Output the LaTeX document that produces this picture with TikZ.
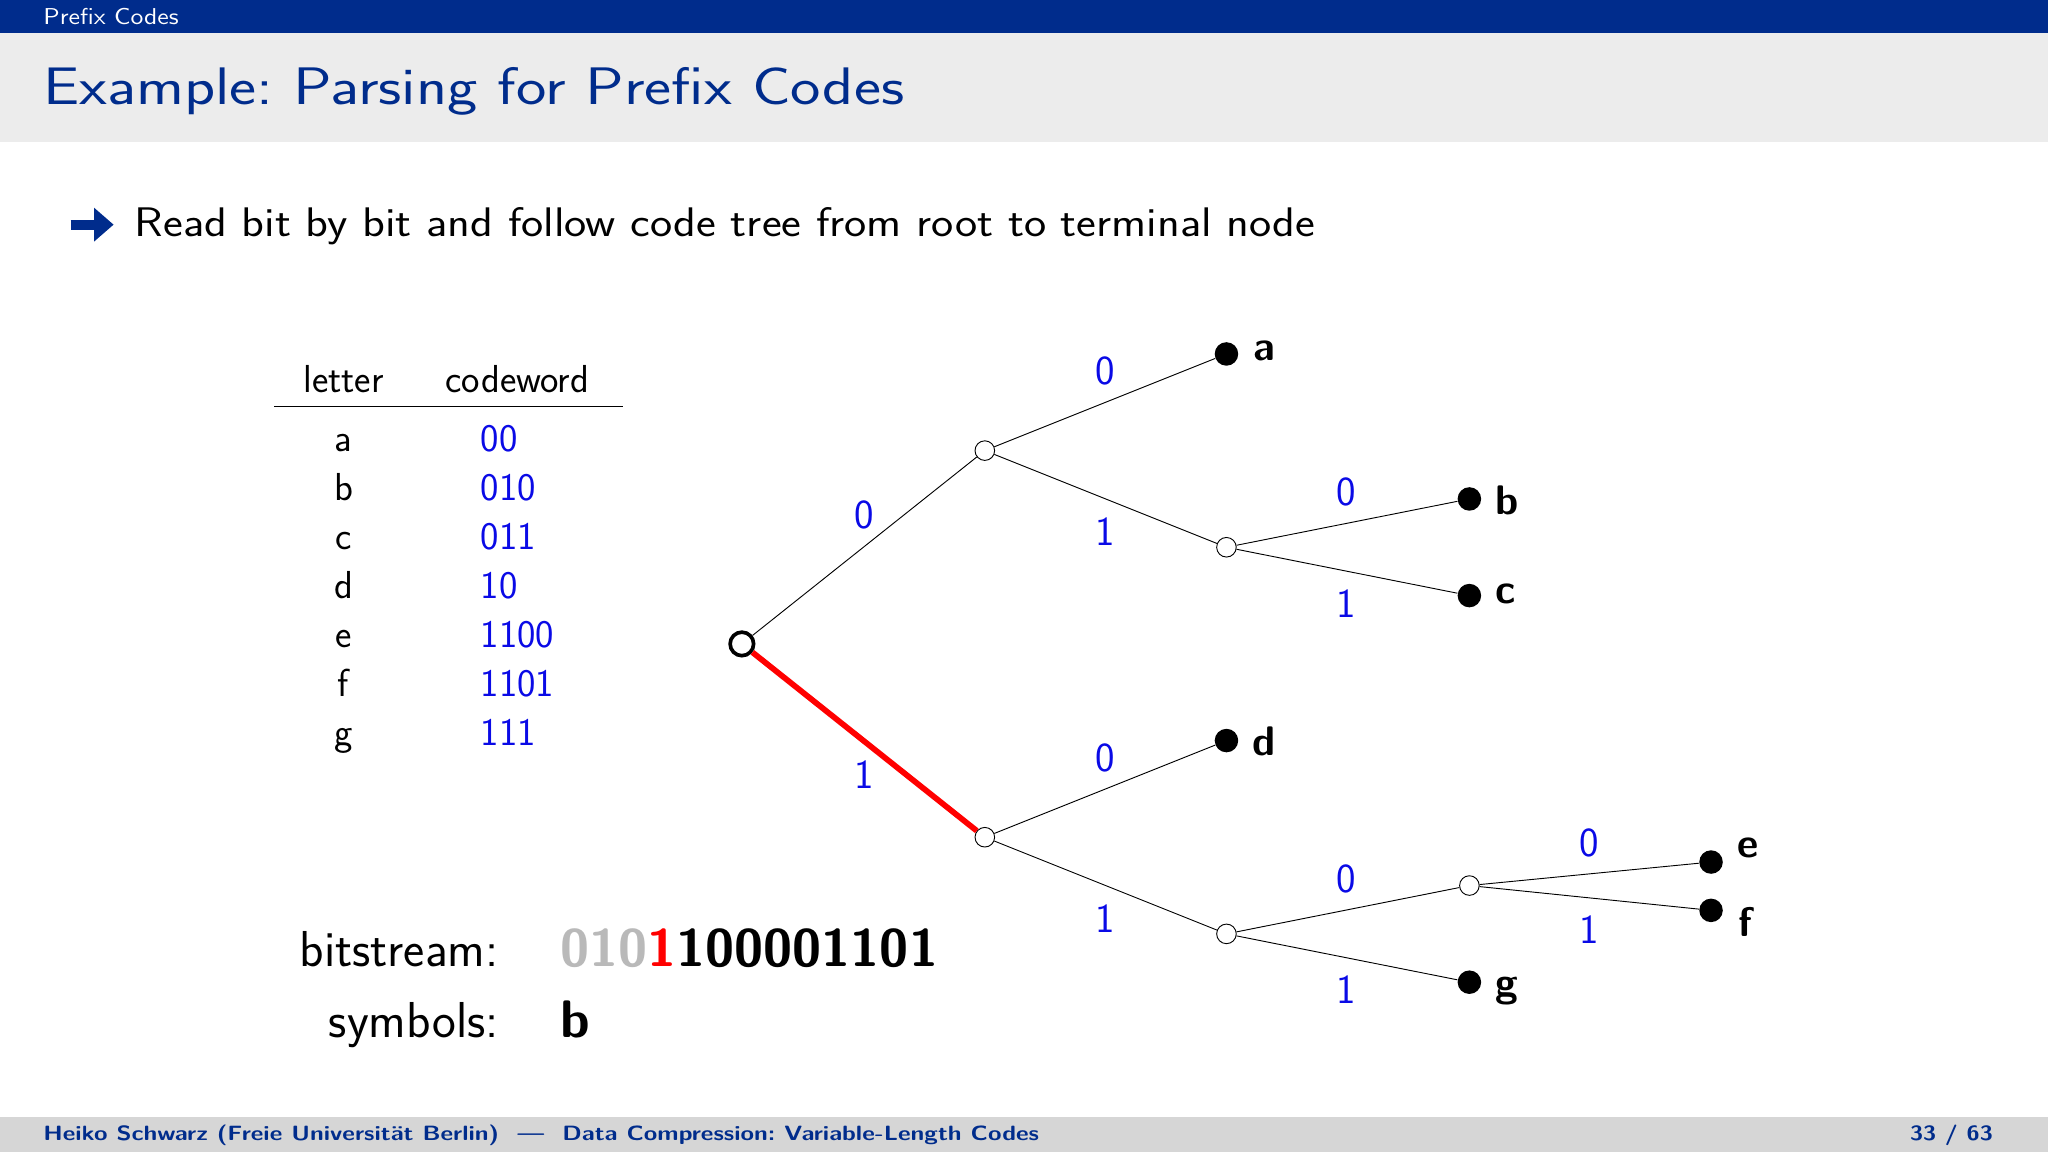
\documentclass[tikz,border=0pt]{standalone}
\usetikzlibrary{arrows.meta}
\begin{document}
\begin{tikzpicture}[x=0.2mm,y=-0.2mm,
  fs/.style 2 args={font=\fontsize{#1}{#2}\selectfont\sffamily},
  inner/.style={circle,draw,fill=white,inner sep=0pt,minimum size=3mm},
  leaf/.style={circle,fill=black,inner sep=0pt,minimum size=3.6mm},
  el/.style={fs={18}{20},text=lblue},
  ll/.style={font=\fontsize{18}{20}\selectfont\sffamily\bfseries},
  tx/.style={fs={17}{19}}]
\definecolor{bblue}{RGB}{0,44,140}
\definecolor{lblue}{RGB}{10,10,230}
\definecolor{hgray}{RGB}{236,236,236}
\useasboundingbox (0,0) rectangle (1568,882);
\fill[bblue] (0,0) rectangle (1568,25);
\fill[hgray] (0,25) rectangle (1568,109);
\fill[hgray!80!gray] (0,855) rectangle (1568,882);
\node[fs={10}{12},text=white,anchor=west] (hd) at (27,13) {\scalebox{1.12}[1]{Prefix Codes}};
\node[fs={23}{26},text=bblue,anchor=west] (title) at (27,70) {\scalebox{1.22}[1]{Example:\ Parsing for Prefix Codes}};
\node[font=\fontsize{9}{11}\selectfont\sffamily\bfseries,text=bblue,anchor=west] (ft) at (27,869) {\scalebox{1.19}[1]{Heiko Schwarz (Freie Universit\"at Berlin) \ --- \ Data Compression:\ Variable-Length Codes}};
\node[font=\fontsize{9}{11}\selectfont\sffamily\bfseries,text=bblue,anchor=east] (pg) at (1532,869) {\scalebox{1.15}[1]{33 / 63}};
\coordinate (a1) at (54,172); \coordinate (a2) at (87,172);
\draw[bblue,line width=1.5mm,-{Triangle[length=3mm,width=5mm]}] (a1) -- (a2);
\node[fs={18}{20},anchor=west] (bul) at (97,173) {\scalebox{1.14}[1]{Read bit by bit and follow code tree from root to terminal node}};
% table
\node[tx] (h1) at (263,290) {letter};
\node[tx] (h2) at (396,290) {codeword};
\coordinate (r1) at (210,311); \coordinate (r2) at (477,311);
\draw (r1) -- (r2);
\foreach \l/\c/\y in {a/00/338,b/010/375,c/011/413,d/10/450,e/1100/488,f/1101/525,g/111/563}{
  \node[tx,anchor=base] (L\l) at (263,\y+8) {\l};
  \node[tx,text=lblue,anchor=base west] (C\l) at (362,\y+8) {\c};
}
% bitstream
\node[fs={22}{24},anchor=base east] (bs) at (388,740) {bitstream:};
\node[font=\fontsize{23}{25}\selectfont\sffamily\bfseries,anchor=base west] (bits) at (423,740) {\textcolor{gray!55}{010}\textcolor{red}{1}100001101};
\node[fs={22}{24},anchor=base east] (sy) at (388,794) {symbols:};
\node[font=\fontsize{23}{25}\selectfont\sffamily\bfseries,anchor=base west] (sb) at (423,794) {b};
% tree
\node[inner,line width=1.6pt,minimum size=3.6mm] (r) at (568,493) {};
\node[inner] (n0) at (754,345) {};
\node[inner] (n1) at (754,641) {};
\node[leaf] (a) at (939,271) {};
\node[inner] (n01) at (939,419) {};
\node[leaf] (b) at (1125,382) {};
\node[leaf] (c) at (1125,456) {};
\node[leaf] (d) at (939,567) {};
\node[inner] (n11) at (939,715) {};
\node[inner] (n110) at (1125,678) {};
\node[leaf] (g) at (1125,752) {};
\node[leaf] (e) at (1310,660) {};
\node[leaf] (f) at (1310,697) {};
\draw (r) -- (n0);
\draw[red,line width=2.5pt] (r) -- (n1);
\draw (n0) -- (a); \draw (n0) -- (n01); \draw (n01) -- (b); \draw (n01) -- (c);
\draw (n1) -- (d); \draw (n1) -- (n11); \draw (n11) -- (n110); \draw (n11) -- (g);
\draw (n110) -- (e); \draw (n110) -- (f);
\foreach \t/\x/\y [count=\i] in {0/662/394,1/662/593,0/846/284,1/846/407,0/1031/377,1/1031/462,0/846/580,1/846/703,0/1031/673,1/1031/758,0/1217/645,1/1217/712}
  \node[el] (e\i) at (\x,\y) {\t};
\foreach \t/\x/\y in {a/968/269,b/1154/383,c/1153/455,d/968/568,e/1338/649,f/1336/706,g/1154/759}
  \node[ll] (l\t) at (\x,\y) {\t};
\end{tikzpicture}
\end{document}
